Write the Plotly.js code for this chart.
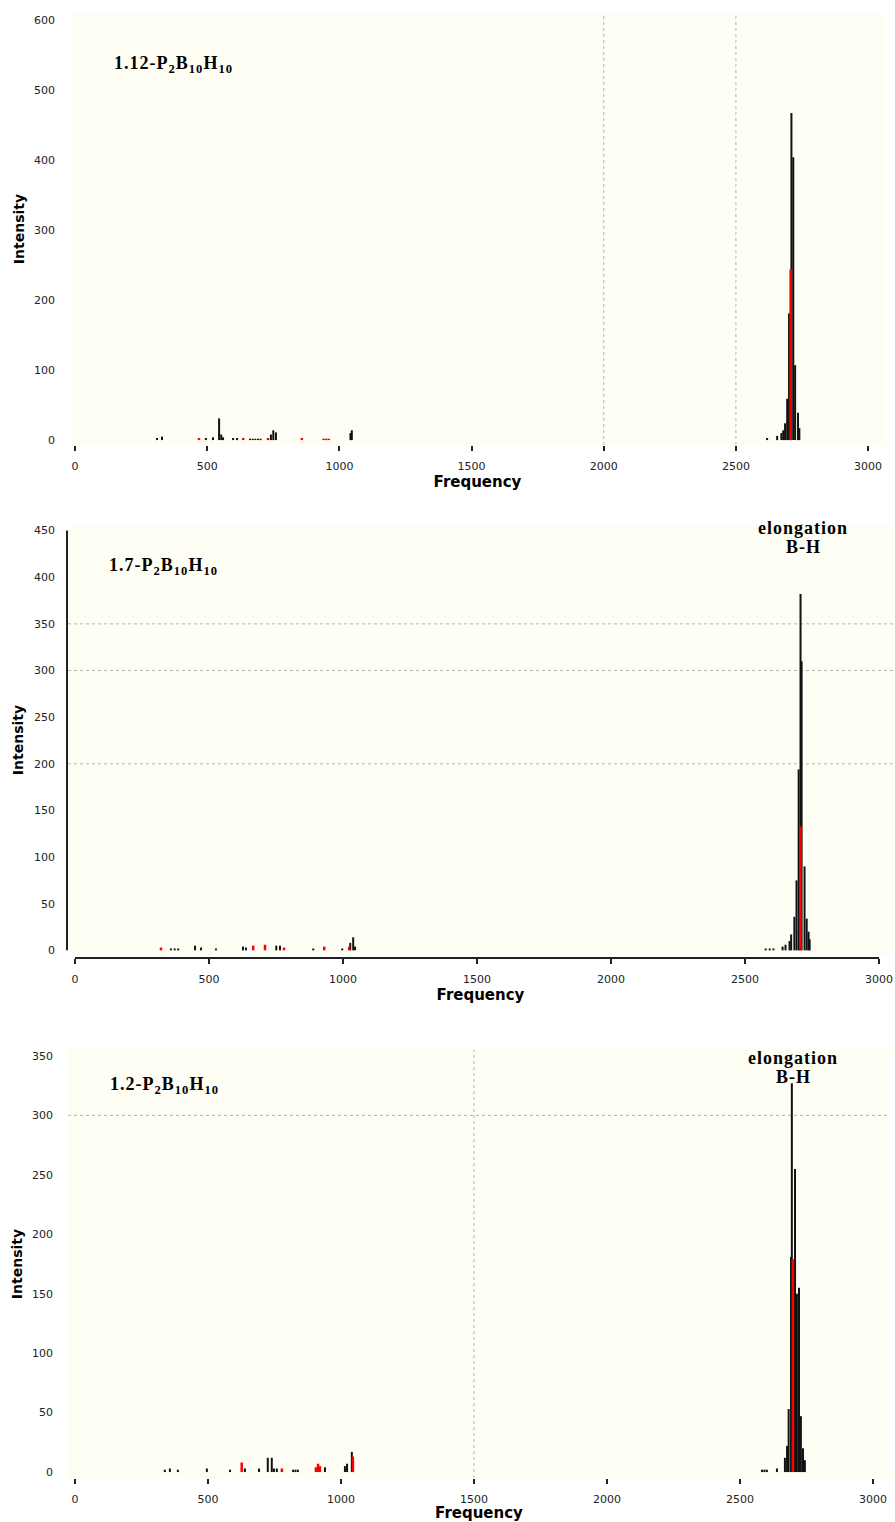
<!DOCTYPE html>
<html>
<head>
<meta charset="utf-8">
<script src="https://cdn.plot.ly/plotly-3.0.1.min.js"></script>
<style>
  html, body { margin: 0; padding: 0; background: #ffffff; }
  #chart { width: 895px; height: 1522px; }
  .annotation-text { letter-spacing: 1px; }
</style>
</head>
<body>
<div id="chart"></div>
<script>
// ---------- Data (frequency in cm-1, intensity) ----------
// Panel 1: 1.12-P2B10H10
const p1BlackFreq = [310, 329, 495, 522, 545, 553, 560, 598, 613, 662, 672, 682, 692, 702, 741, 750, 760, 1042, 1047,
                     2618, 2656, 2672, 2679, 2686, 2694, 2701, 2710, 2717, 2724, 2735, 2740];
const p1BlackInt  = [3, 5, 3, 4, 31, 8, 4, 3, 3, 2, 2, 2, 2, 2, 8, 14, 11, 10, 14,
                     3, 6, 10, 14, 24, 59, 181, 467, 404, 107, 39, 17];
const p1RedFreq   = [469, 636, 730, 858, 940, 950, 960, 2707];
const p1RedInt    = [3, 3, 3, 3, 2, 2, 2, 244];

// Panel 2: 1.7-P2B10H10
const p2BlackFreq = [358, 372, 385, 448, 470, 526, 627, 638, 751, 765, 889, 997, 1027, 1038, 1045,
                     2577, 2592, 2606, 2640, 2651, 2666, 2672, 2684, 2692, 2700, 2707, 2711, 2722, 2730, 2737, 2741];
const p2BlackInt  = [2, 2, 2, 5, 3, 2, 4, 3, 5, 5, 2, 2, 8, 14, 4,
                     2, 2, 2, 4, 6, 10, 17, 36, 75, 194, 382, 310, 90, 34, 20, 12];
const p2RedFreq   = [321, 665, 709, 780, 930, 1023, 2707];
const p2RedInt    = [3, 5, 6, 3, 4, 4, 133];

// Panel 3: 1.2-P2B10H10
const p3BlackFreq = [338, 357, 387, 496, 583, 639, 692, 725, 740, 748, 759, 820, 829, 838, 940, 1015, 1023, 1041,
                     2583, 2592, 2601, 2639, 2669, 2677, 2683, 2692, 2695, 2707, 2714, 2722, 2729, 2737, 2744];
const p3BlackInt  = [2, 3, 2, 3, 2, 3, 3, 12, 12, 3, 3, 2, 2, 2, 4, 5, 7, 17,
                     2, 2, 2, 3, 12, 22, 53, 181, 327, 255, 150, 155, 47, 20, 10];
const p3RedFreq   = [627, 778, 906, 914, 921, 1045, 2699];
const p3RedInt    = [8, 3, 4, 7, 5, 13, 179];

// Labels
const panelTitles = ['1.12-P<sub>2</sub>B<sub>10</sub>H<sub>10</sub>',
                     '1.7-P<sub>2</sub>B<sub>10</sub>H<sub>10</sub>',
                     '1.2-P<sub>2</sub>B<sub>10</sub>H<sub>10</sub>'];
const peakLabelLine1 = 'elongation';
const peakLabelLine2 = 'B-H';
const xTitle = 'Frequency';
const yTitle = 'Intensity';

// Reference lines shown in each panel
const p1GridX = [2000, 2500];
const p2GridY = [200, 300, 350];
const p3GridX = [1500];
const p3GridY = [300];

// ---------- Helpers ----------
function sticks(freq, inten) {
  const x = [], y = [];
  freq.forEach((f, i) => { x.push(f, f, null); y.push(0, inten[i], null); });
  return { x, y };
}
function stickTrace(freq, inten, color, width, xa, ya) {
  const s = sticks(freq, inten);
  return { type: 'scatter', mode: 'lines', x: s.x, y: s.y, xaxis: xa, yaxis: ya,
           line: { color: color, width: width }, hoverinfo: 'skip', connectgaps: false };
}

const BLACK = '#111111', RED = '#ff0000';
const traces = [
  stickTrace(p1BlackFreq, p1BlackInt, BLACK, 2, 'x', 'y'),
  stickTrace(p1RedFreq, p1RedInt, RED, 2.5, 'x', 'y'),
  stickTrace(p2BlackFreq, p2BlackInt, BLACK, 2, 'x2', 'y2'),
  stickTrace(p2RedFreq, p2RedInt, RED, 2.5, 'x2', 'y2'),
  stickTrace(p3BlackFreq, p3BlackInt, BLACK, 2, 'x3', 'y3'),
  stickTrace(p3RedFreq, p3RedInt, RED, 2.5, 'x3', 'y3')
];

const W = 895, H = 1522;
const px = v => v / W;            // pixel -> paper x
const py = v => (H - v) / H;      // pixel (from top) -> paper y

const tickFont = { family: 'DejaVu Sans, sans-serif', size: 11, color: '#222' };
const titleFont = { family: 'DejaVu Sans, sans-serif', size: 15, color: '#000', weight: 'bold' };
const yTitleFont = { family: 'DejaVu Sans, sans-serif', size: 14, color: '#000', weight: 'bold' };
const labelFont = { family: 'Liberation Serif, Times New Roman, serif', size: 18, color: '#000', weight: 'bold' };
const BG = '#fefef4';

function xAxis(domain, range, anchor, extra) {
  return Object.assign({
    domain: domain, range: range, anchor: anchor,
    tick0: 0, dtick: 500, ticks: 'outside', ticklen: 5, tickwidth: 2, tickcolor: '#222',
    showgrid: false, zeroline: false, showline: false,
    tickfont: tickFont, ticklabelstandoff: 6,
    title: { text: xTitle, font: titleFont, standoff: 4 }
  }, extra || {});
}
function yAxis(domain, range, dtick, anchor, extra) {
  return Object.assign({
    domain: domain, range: range, anchor: anchor,
    tick0: 0, dtick: dtick, ticks: '',
    showgrid: false, zeroline: false, showline: false,
    tickfont: tickFont, ticklabelstandoff: 14,
    title: { text: yTitle, font: yTitleFont, standoff: 6 }
  }, extra || {});
}

const shapes = [];
const gridLine = { color: '#b5b5b5', width: 1, dash: 'dot' };
p1GridX.forEach(v => shapes.push({ type: 'line', xref: 'x', yref: 'y domain', x0: v, x1: v, y0: 0, y1: 1,
  line: gridLine, layer: 'below' }));
p2GridY.forEach(v => shapes.push({ type: 'line', xref: 'x2 domain', yref: 'y2', x0: 0, x1: 1, y0: v, y1: v,
  line: gridLine, layer: 'below' }));
p3GridX.forEach(v => shapes.push({ type: 'line', xref: 'x3', yref: 'y3 domain', x0: v, x1: v, y0: 0, y1: 1,
  line: gridLine, layer: 'below' }));
p3GridY.forEach(v => shapes.push({ type: 'line', xref: 'x3 domain', yref: 'y3', x0: 0, x1: 1, y0: v, y1: v,
  line: gridLine, layer: 'below' }));
// panel 2 detached axis lines
shapes.push({ type: 'line', xref: 'paper', yref: 'y2', x0: px(67), x1: px(67), y0: 0, y1: 450,
  line: { color: '#222', width: 2 } });
shapes.push({ type: 'line', xref: 'x2', yref: 'paper', x0: 0, x1: 3000, y0: py(958), y1: py(958),
  line: { color: '#222', width: 2 } });

const annotations = [
  { text: panelTitles[0], xref: 'paper', yref: 'paper', x: px(112), y: py(64), xanchor: 'left', yanchor: 'middle', showarrow: false, font: labelFont },
  { text: panelTitles[1], xref: 'paper', yref: 'paper', x: px(107), y: py(566), xanchor: 'left', yanchor: 'middle', showarrow: false, font: labelFont },
  { text: panelTitles[2], xref: 'paper', yref: 'paper', x: px(108), y: py(1085), xanchor: 'left', yanchor: 'middle', showarrow: false, font: labelFont },
  { text: peakLabelLine1, xref: 'paper', yref: 'paper', x: px(803), y: py(528), xanchor: 'center', yanchor: 'middle', showarrow: false, font: labelFont },
  { text: peakLabelLine2, xref: 'paper', yref: 'paper', x: px(803), y: py(547), xanchor: 'center', yanchor: 'middle', showarrow: false, font: labelFont },
  { text: peakLabelLine1, xref: 'paper', yref: 'paper', x: px(793), y: py(1058), xanchor: 'center', yanchor: 'middle', showarrow: false, font: labelFont },
  { text: peakLabelLine2, xref: 'paper', yref: 'paper', x: px(793), y: py(1077), xanchor: 'center', yanchor: 'middle', showarrow: false, font: labelFont }
];

const layout = {
  width: W, height: H,
  margin: { l: 0, r: 0, t: 0, b: 0 },
  paper_bgcolor: '#ffffff',
  plot_bgcolor: BG,
  showlegend: false,
  xaxis:  xAxis([px(70), px(885)], [-19, 3064], 'y'),
  yaxis:  yAxis([py(445), py(13)], [-7, 610], 100, 'x'),
  xaxis2: xAxis([px(68), px(893)], [-26, 3052], 'free', { position: py(958) }),
  yaxis2: yAxis([py(955), py(525)], [-5, 456], 50, 'free', { position: px(67), ticklabelstandoff: 12 }),
  xaxis3: xAxis([px(68), px(890)], [-26, 3064], 'y3'),
  yaxis3: yAxis([py(1478), py(1050)], [-5, 355], 50, 'x3'),
  shapes: shapes,
  annotations: annotations
};

Plotly.newPlot('chart', traces, layout, { staticPlot: true, displayModeBar: false });
</script>
</body>
</html>
